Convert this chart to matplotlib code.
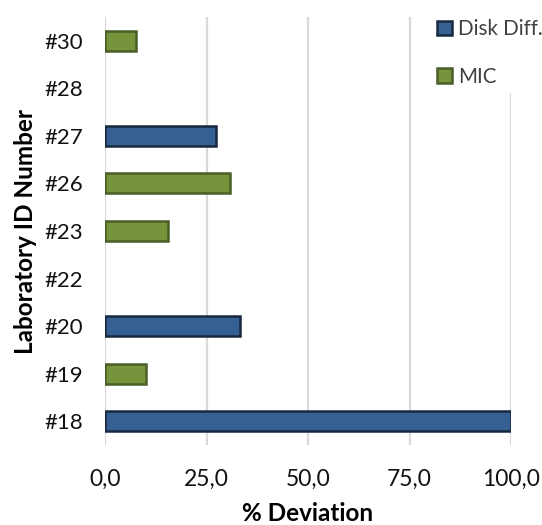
import matplotlib
matplotlib.use("Agg")
import matplotlib.pyplot as plt
import numpy as np

# Laboratory IDs (bottom to top) and % deviation per method
labs = ["#18", "#19", "#20", "#22", "#23", "#26", "#27", "#28", "#30"]
disk_diff = [100.0, None, 33.3, None, None, None, 27.3, None, None]
mic = [None, 10.0, None, None, 15.4, 30.8, None, None, 7.7]
x_ticks = [0, 25, 50, 75, 100]
x_tick_labels = ["0,0", "25,0", "50,0", "75,0", "100,0"]

plt.rcParams["font.family"] = ["Lato", "DejaVu Sans"]

fig = plt.figure(figsize=(5.42, 5.25), dpi=100)
ax = fig.add_axes([105 / 542, 1 - 445 / 525, 406 / 542, 428 / 525])

ypos = np.arange(len(labs))
bar_h = 0.42

def draw_series(values, face, edge, label):
    idx = [i for i, v in enumerate(values) if v is not None]
    vals = [values[i] for i in idx]
    return ax.barh(ypos[idx], vals, height=bar_h, color=face, edgecolor=edge,
                   linewidth=1.8, label=label, zorder=3)

b1 = draw_series(disk_diff, "#376092", "#17283F", "Disk Diff.")
b2 = draw_series(mic, "#77933C", "#4B5E26", "MIC")

ax.set_xlim(0, 100)
ax.set_ylim(-0.5, len(labs) - 0.5)
ax.set_yticks(ypos)
ax.set_yticklabels(labs, fontsize=16, color="#111111")
ax.set_xticks(x_ticks)
ax.set_xticklabels(x_tick_labels, fontsize=16.5, color="#111111")
ax.tick_params(axis="both", length=0)
ax.tick_params(axis="y", pad=16)
ax.tick_params(axis="x", pad=17)

ax.grid(axis="x", color="#D9D9D9", linewidth=1.6, zorder=0)
ax.set_axisbelow(True)
for s in ax.spines.values():
    s.set_visible(False)

ax.set_xlabel("% Deviation", fontsize=17.5, fontweight="bold", labelpad=9)
ax.set_ylabel("Laboratory ID Number", fontsize=17.5, fontweight="bold", labelpad=5)

leg = ax.legend(handles=[b1, b2], loc="upper left",
                bbox_to_anchor=(431 / 542, 1 - 13 / 525),
                bbox_transform=fig.transFigure,
                frameon=True, fancybox=False, fontsize=14.8,
                handlelength=0.72, handleheight=0.72, handletextpad=0.3,
                labelspacing=1.35, borderpad=0.3, borderaxespad=0)
leg.get_frame().set_facecolor("white")
leg.get_frame().set_edgecolor("none")
leg.get_frame().set_alpha(1)
leg.set_zorder(5)
for t in leg.get_texts():
    t.set_color("#404040")

fig.savefig("out.png", dpi=100, facecolor="white")
